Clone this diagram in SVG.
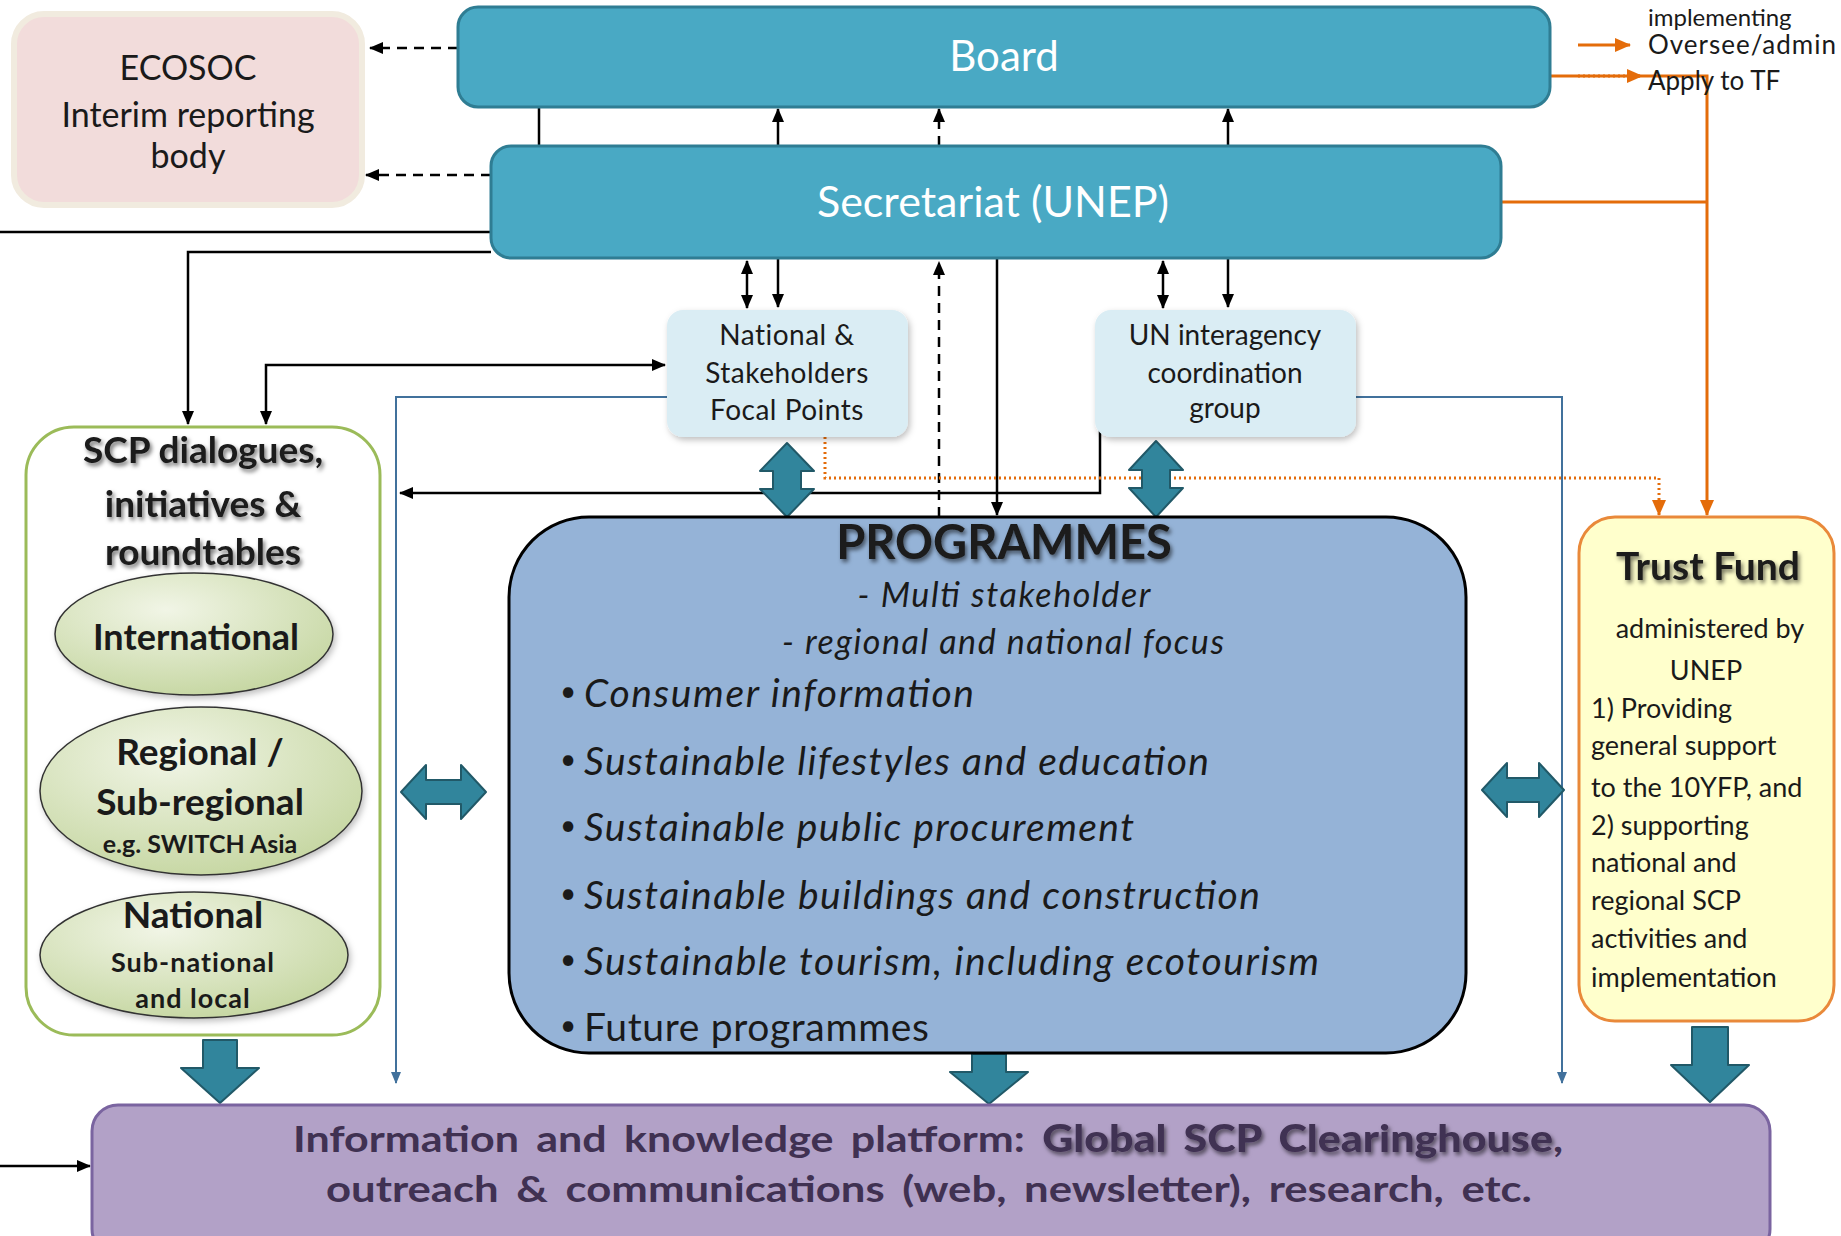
<svg xmlns="http://www.w3.org/2000/svg" width="1841" height="1236" viewBox="0 0 1841 1236">
<style>
.t{font-family:Lato,'Open Sans','Liberation Sans',sans-serif;}
.w{fill:#ffffff;}
.d{fill:#1a1a1a;}
.c{text-anchor:middle;}
.b{font-weight:bold;}
.i{font-style:italic;}
.conn{fill:none;stroke:#000;stroke-width:2.5;}
.dash{stroke-dasharray:10 7;}
.blue{fill:none;stroke:#41719c;stroke-width:2;}
.or{fill:none;stroke:#e46c0a;stroke-width:3;}
.dot{stroke-dasharray:2 3;}
.block{fill:#31859c;stroke:#215968;stroke-width:2;stroke-linejoin:round;}
.teal{fill:#49a9c4;stroke:#2f7d93;stroke-width:3;}
.fp{fill:#daedf4;}
.ell{fill:url(#eg);stroke:#333;stroke-width:1.5;}
.bul{font-size:28px;}
</style>
<defs>
<marker id="ah" markerUnits="userSpaceOnUse" markerWidth="14" markerHeight="12" refX="13" refY="6" orient="auto-start-reverse"><path d="M0,0 L14,6 L0,12 Z" fill="#000"/></marker>
<marker id="ahb" markerUnits="userSpaceOnUse" markerWidth="12" markerHeight="10" refX="11" refY="5" orient="auto"><path d="M0,0 L12,5 L0,10 Z" fill="#41719c"/></marker>
<marker id="aho" markerUnits="userSpaceOnUse" markerWidth="16" markerHeight="14" refX="15" refY="7" orient="auto"><path d="M0,0 L16,7 L0,14 Z" fill="#e46c0a"/></marker>
<filter id="ts" x="-10%" y="-40%" width="125%" height="180%"><feDropShadow dx="2" dy="3" stdDeviation="2.2" flood-color="#000" flood-opacity="0.55"/></filter>
<filter id="bs" x="-10%" y="-10%" width="125%" height="130%"><feDropShadow dx="2" dy="3" stdDeviation="3" flood-color="#000" flood-opacity="0.25"/></filter>
<radialGradient id="eg" cx="0.4" cy="0.3" r="0.8"><stop offset="0" stop-color="#f1f5e6"/><stop offset="1" stop-color="#c2d49c"/></radialGradient>
</defs>
<rect x="0" y="0" width="1841" height="1236" fill="#ffffff"/>

<g id="connectors">
<path class="conn dash" d="M458,48 L370,48" marker-end="url(#ah)"/>
<path class="conn dash" d="M491,175 L366,175" marker-end="url(#ah)"/>
<path class="conn" d="M539,107 L539,146"/>
<path class="conn" d="M778,146 L778,109" marker-end="url(#ah)"/>
<path class="conn dash" d="M939,146 L939,109" marker-end="url(#ah)"/>
<path class="conn" d="M1228,146 L1228,109" marker-end="url(#ah)"/>
<path class="conn" d="M0,232 L491,232"/>
<path class="conn" d="M491,252 L188,252 L188,424" marker-end="url(#ah)"/>
<path class="conn" d="M266,424 L266,365 L665,365" marker-start="url(#ah)" marker-end="url(#ah)"/>
<path class="conn" d="M747,261 L747,308" marker-start="url(#ah)" marker-end="url(#ah)"/>
<path class="conn" d="M778,258 L778,307" marker-end="url(#ah)"/>
<path class="conn" d="M1163,261 L1163,308" marker-start="url(#ah)" marker-end="url(#ah)"/>
<path class="conn" d="M1228,258 L1228,307" marker-end="url(#ah)"/>
<path class="conn dash" d="M939,517 L939,262" marker-end="url(#ah)"/>
<path class="conn" d="M997,258 L997,515" marker-end="url(#ah)"/>
<path class="conn" d="M1100,427 L1100,493 L400,493" marker-end="url(#ah)"/>
<path class="blue" d="M667,397 L396,397 L396,1083" marker-end="url(#ahb)"/>
<path class="blue" d="M1356,397 L1562,397 L1562,1083" marker-end="url(#ahb)"/>
<path class="or" d="M1550,76 L1707,76 L1707,515" marker-end="url(#aho)"/>
<path class="or" d="M1500,202 L1707,202"/>
<path class="or dot" d="M825,437 L825,478 L1659,478 L1659,515" marker-end="url(#aho)"/>
<path class="or" d="M1578,45 L1630,45" marker-end="url(#aho)"/>
<path class="or dot" d="M1578,76 L1642,76" marker-end="url(#aho)"/>
<path class="conn" d="M0,1166 L90,1166" marker-end="url(#ah)"/>
<path class="block" d="M787,443 L814,471 L801,471 L801,489 L814,489 L787,517 L760,489 L773,489 L773,471 L760,471 Z"/>
<path class="block" d="M1156,441 L1183,470 L1170,470 L1170,488 L1183,488 L1156,517 L1129,488 L1142,488 L1142,470 L1129,470 Z"/>
<path class="block" d="M401,792 L426,765 L426,780 L461,780 L461,765 L486,792 L461,819 L461,804 L426,804 L426,819 Z"/>
<path class="block" d="M1482,790 L1507,763 L1507,778 L1539,778 L1539,763 L1564,790 L1539,817 L1539,802 L1507,802 L1507,817 Z"/>
<path class="block" d="M203,1040 L237,1040 L237,1068 L259,1068 L220,1103 L181,1068 L203,1068 Z"/>
<path class="block" d="M972,1054 L1006,1054 L1006,1072 L1028,1072 L989,1104 L950,1072 L972,1072 Z"/>
<path class="block" d="M1692,1027 L1728,1027 L1728,1065 L1749,1065 L1710,1102 L1671,1065 L1692,1065 Z"/>
</g>

<g id="board">
<rect class="teal" x="458" y="7" width="1092" height="100" rx="20"/>
<text class="t w c" x="1004" y="71" font-size="42">Board</text>
</g>

<g id="ecosoc">
<rect x="14" y="14" width="348" height="191" rx="30" fill="#f2dcdb" stroke="#f1ebdf" stroke-width="6"/>
<text class="t d c" x="188" y="80" font-size="34">ECOSOC</text>
<text class="t d c" x="188" y="127" font-size="34">Interim reporting</text>
<text class="t d c" x="188" y="168" font-size="34">body</text>
</g>

<g id="secretariat">
<rect class="teal" x="491" y="146" width="1010" height="112" rx="20"/>
<text class="t w c" x="993" y="217" font-size="43">Secretariat (UNEP)</text>
</g>

<g id="focal-points">
<rect class="fp" x="667" y="310" width="241" height="127" rx="16" filter="url(#bs)"/>
<text class="t d c" x="787" y="345" font-size="28" letter-spacing="0.5">National  &amp;</text>
<text class="t d c" x="787" y="383" font-size="28" letter-spacing="0.5">Stakeholders</text>
<text class="t d c" x="787" y="420" font-size="28" letter-spacing="0.5">Focal Points</text>
</g>

<g id="un-group">
<rect class="fp" x="1095" y="310" width="261" height="127" rx="16" filter="url(#bs)"/>
<text class="t d c" x="1225" y="345" font-size="28">UN interagency</text>
<text class="t d c" x="1225" y="383" font-size="28">coordination</text>
<text class="t d c" x="1225" y="418" font-size="28">group</text>
</g>

<g id="scp-dialogues">
<rect x="26" y="427" width="354" height="608" rx="48" fill="#ffffff" stroke="#9bbb59" stroke-width="3"/>
<g filter="url(#ts)">
<text class="t d c b" x="203" y="463" font-size="37">SCP dialogues,</text>
<text class="t d c b" x="203" y="517" font-size="37">initiatives &amp;</text>
<text class="t d c b" x="203" y="565" font-size="37">roundtables</text>
</g>
</g>

<g id="international">
<ellipse class="ell" cx="194" cy="634" rx="139" ry="61" filter="url(#bs)"/>
<text class="t d c b" x="196" y="650" font-size="36">International</text>
</g>

<g id="regional">
<ellipse class="ell" cx="201" cy="791" rx="161" ry="84" filter="url(#bs)"/>
<text class="t d c b" x="200" y="765" font-size="37">Regional /</text>
<text class="t d c b" x="200" y="815" font-size="37">Sub-regional</text>
<text class="t d c b" x="200" y="853" font-size="25">e.g. SWITCH Asia</text>
</g>

<g id="national">
<ellipse class="ell" cx="194" cy="955" rx="154" ry="63" filter="url(#bs)"/>
<text class="t d c b" x="193" y="928" font-size="37">National</text>
<text class="t d c b" x="193" y="972" font-size="27" letter-spacing="1">Sub-national</text>
<text class="t d c b" x="193" y="1008" font-size="27" letter-spacing="1">and local</text>
</g>

<g id="programmes">
<rect x="509" y="517" width="957" height="536" rx="80" fill="#95b3d7" stroke="#000" stroke-width="3"/>
<text class="t d c b" x="1004" y="559" font-size="47" filter="url(#ts)">PROGRAMMES</text>
<text class="t d c i" x="1004" y="607" font-size="34" textLength="293">- Multi stakeholder</text>
<text class="t d c i" x="1003" y="654" font-size="34" textLength="442">- regional and national focus</text>
<g class="t d" font-size="39">
<text class="bul" x="560" y="701">•</text><text class="i" x="584" y="707" textLength="390">Consumer information</text>
<text class="bul" x="560" y="769">•</text><text class="i" x="584" y="775" textLength="625">Sustainable lifestyles and education</text>
<text class="bul" x="560" y="835">•</text><text class="i" x="584" y="841" textLength="550">Sustainable public procurement</text>
<text class="bul" x="560" y="903">•</text><text class="i" x="584" y="909" textLength="676">Sustainable buildings  and construction</text>
<text class="bul" x="560" y="969">•</text><text class="i" x="584" y="975" textLength="735">Sustainable tourism, including ecotourism</text>
<text class="bul" x="560" y="1035">•</text><text x="584" y="1041" textLength="345">Future programmes</text>
</g>
</g>

<g id="trust-fund">
<rect x="1579" y="517" width="255" height="504" rx="36" fill="#ffffcc" stroke="#e9893a" stroke-width="3"/>
<text class="t d c b" x="1708" y="580" font-size="39" filter="url(#ts)">Trust Fund</text>
<g class="t d" font-size="27">
<text class="c" x="1710" y="638">administered by</text>
<text class="c" x="1706" y="680">UNEP</text>
<text x="1591" y="718">1) Providing</text>
<text x="1591" y="755">general support</text>
<text x="1591" y="797">to the 10YFP, and</text>
<text x="1591" y="835">2) supporting</text>
<text x="1591" y="872">national and</text>
<text x="1591" y="910">regional SCP</text>
<text x="1591" y="948">activities and</text>
<text x="1591" y="987">implementation</text>
</g>
</g>

<g id="platform">
<rect x="92" y="1105" width="1678" height="150" rx="26" fill="#b2a1c7" stroke="#7a64a0" stroke-width="3"/>
<text class="t b" x="293" y="1152" font-size="37" fill="#403152" word-spacing="6" textLength="1270" lengthAdjust="spacingAndGlyphs">Information  and  knowledge  platform:  <tspan font-weight="900" filter="url(#ts)">Global SCP Clearinghouse</tspan>,</text>
<text class="t b" x="326" y="1202" font-size="37" fill="#403152" word-spacing="6" textLength="1206" lengthAdjust="spacingAndGlyphs">outreach  &amp;  communications  (web,  newsletter),  research,  etc.</text>
</g>

<g id="legend">
<text class="t d" x="1648" y="26" font-size="24">implementing</text>
<text class="t d" x="1648" y="54" font-size="26" letter-spacing="1">Oversee/admin</text>
<text class="t d" x="1648" y="90" font-size="26">Apply to TF</text>
</g>
</svg>
